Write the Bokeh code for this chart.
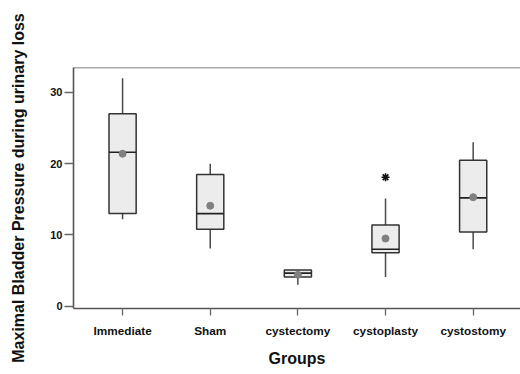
from bokeh.plotting import figure
from bokeh.models import FixedTicker, Span
from bokeh.embed import file_html
from bokeh.resources import INLINE

groups = ["Immediate", "Sham", "cystectomy", "cystoplasty", "cystostomy"]
whisker_low = [12.2, 8.1, 3.0, 4.1, 8.0]
q1 = [13.0, 10.8, 4.1, 7.5, 10.4]
median = [21.6, 13.0, 4.65, 8.0, 15.2]
q3 = [27.0, 18.5, 5.1, 11.4, 20.5]
whisker_high = [32.0, 20.0, 5.1, 15.1, 23.0]
mean = [21.4, 14.1, 4.4, 9.5, 15.3]
outlier_group = [3]
outlier_value = [18.1]

xs = list(range(len(groups)))
y_start, y_end = -0.32, 33.5

p = figure(width=520, height=374, output_backend="svg", toolbar_location=None,
           x_range=(-0.56, 4.54), y_range=(y_start, y_end),
           min_border_left=73, min_border_right=0, min_border_top=67, min_border_bottom=66)
p.outline_line_color = None
p.xgrid.visible = False
p.ygrid.visible = False
p.background_fill_color = "white"
p.border_fill_color = "white"

p.add_layout(Span(location=y_end, dimension="width", line_color="#555555", line_width=1.6))

# whiskers
p.segment(x0=xs, y0=whisker_low, x1=xs, y1=q1, line_color="#4a4a4a", line_width=1.5)
p.segment(x0=xs, y0=q3, x1=xs, y1=whisker_high, line_color="#4a4a4a", line_width=1.5)
# boxes
p.vbar(x=xs, bottom=q1, top=q3, width=0.31, fill_color="#ececec",
       line_color="#333333", line_width=1.5)
# medians
p.segment(x0=[x - 0.155 for x in xs], y0=median, x1=[x + 0.155 for x in xs], y1=median,
          line_color="#222222", line_width=1.6)
# means
p.scatter(x=xs, y=mean, size=7, marker="circle", fill_color="#808080",
          line_color="#808080")
# outlier
p.scatter(x=outlier_group, y=outlier_value, size=8, marker="asterisk",
          line_color="#111111", line_width=1.6)

p.xaxis.ticker = FixedTicker(ticks=xs)
p.xaxis.major_label_overrides = {i: g for i, g in enumerate(groups)}
p.xaxis.axis_label = "Groups"
p.yaxis.ticker = FixedTicker(ticks=[0, 10, 20, 30])
p.yaxis.axis_label = "Maximal Bladder Pressure during urinary loss"

for ax in (p.xaxis[0], p.yaxis[0]):
    ax.axis_line_color = "#555555"
    ax.axis_line_width = 1.6
    ax.major_tick_line_color = "#666666"
    ax.major_tick_line_width = 1.3
    ax.minor_tick_line_color = None
    ax.major_tick_in = 0
    ax.axis_label_text_font = "Liberation Sans"
    ax.axis_label_text_font_style = "bold"
    ax.axis_label_text_font_size = "16px"
    ax.axis_label_text_color = "#111111"
    ax.major_label_text_font = "Liberation Sans"
    ax.major_label_text_font_style = "bold"
    ax.major_label_text_color = "#111111"

p.xaxis.major_tick_out = 7
p.xaxis.major_label_text_font_size = "11.8px"
p.xaxis.major_label_standoff = 8
p.xaxis.axis_label_standoff = 9
p.yaxis.major_tick_out = 9
p.yaxis.major_label_text_font_size = "11px"
p.yaxis.major_label_standoff = 2
p.yaxis.axis_label_standoff = 20

open("out.html", "w").write(file_html(p, INLINE))
